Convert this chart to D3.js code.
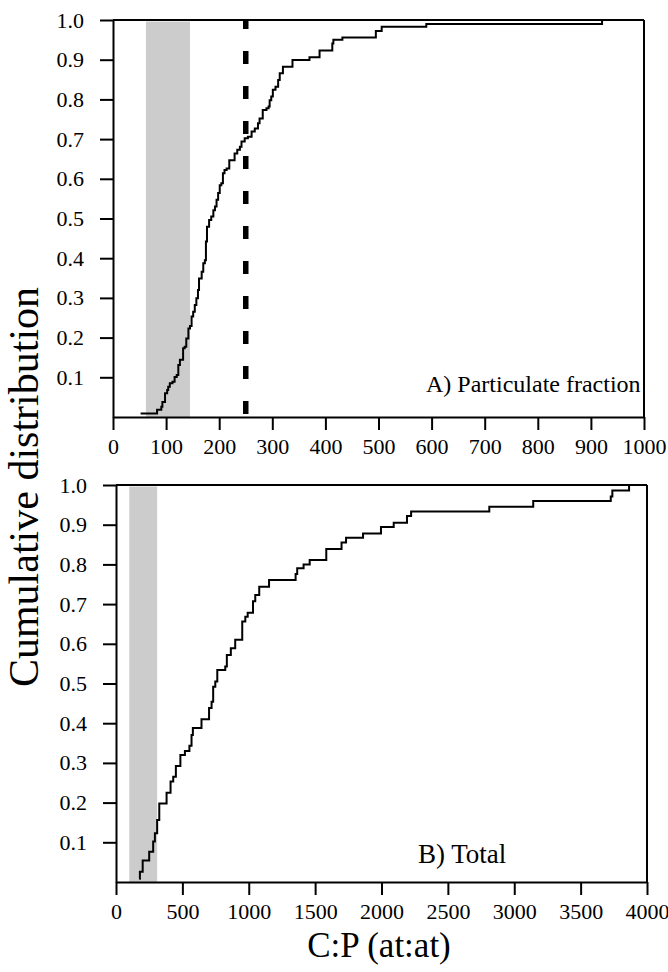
<!DOCTYPE html>
<html><head><meta charset="utf-8">
<script src="https://cdn.jsdelivr.net/npm/d3@7"></script>
<style>body{margin:0;background:#fff}svg{display:block}</style>
</head><body>
<svg id="chart" width="668" height="972"></svg>
<script>
// ---- data ----
const yTickValues = [0.1, 0.2, 0.3, 0.4, 0.5, 0.6, 0.7, 0.8, 0.9, 1.0];
const partTickValues = [0, 100, 200, 300, 400, 500, 600, 700, 800, 900, 1000];
const totalTickValues = [0, 500, 1000, 1500, 2000, 2500, 3000, 3500, 4000];

// A) Particulate fraction: C:P values at each step and cumulative fraction
const partX = [52, 83, 91, 93, 98, 102, 104, 107, 112, 116, 120, 123, 126, 132, 135, 138, 142, 145, 148, 151,
  154, 157, 160, 162, 167, 170, 173, 175, 177, 181, 185, 189, 192, 195, 198, 201, 204, 207, 210, 214,
  219, 229, 234, 239, 242, 248, 254, 261, 267, 273, 276, 282, 289, 293, 295, 298, 301, 306, 311, 314,
  320, 338, 370, 389, 413, 415, 432, 495, 506, 590, 921];
const partF = [0.009, 0.018, 0.026, 0.038, 0.060, 0.068, 0.076, 0.085, 0.089, 0.101, 0.106, 0.131, 0.144, 0.173, 0.177, 0.198, 0.223, 0.229, 0.253, 0.265,
  0.282, 0.299, 0.320, 0.349, 0.366, 0.387, 0.395, 0.442, 0.479, 0.496, 0.505, 0.521, 0.530, 0.547, 0.564, 0.584, 0.589, 0.614, 0.622, 0.626,
  0.647, 0.664, 0.673, 0.681, 0.694, 0.702, 0.706, 0.719, 0.727, 0.740, 0.752, 0.773, 0.778, 0.782, 0.798, 0.807, 0.824, 0.832, 0.849, 0.866,
  0.882, 0.899, 0.906, 0.923, 0.941, 0.950, 0.956, 0.972, 0.983, 0.990, 1.0];

// B) Total
const totalX = [175, 180, 201, 250, 280, 293, 310, 326, 381, 411, 431, 451, 485, 519, 553, 569, 579, 644, 701, 720,
  732, 748, 763, 823, 835, 865, 898, 951, 974, 992, 1032, 1049, 1079, 1153, 1353, 1365, 1413, 1459, 1584, 1699,
  1733, 1861, 1996, 2092, 2192, 2223, 2812, 3143, 3727, 3739, 3865];
const totalF = [0.008, 0.026, 0.054, 0.076, 0.102, 0.123, 0.156, 0.198, 0.225, 0.253, 0.265, 0.292, 0.320, 0.330, 0.343, 0.370, 0.388, 0.410, 0.438, 0.454,
  0.492, 0.505, 0.534, 0.543, 0.572, 0.589, 0.610, 0.656, 0.668, 0.678, 0.707, 0.723, 0.744, 0.761, 0.776, 0.790, 0.800, 0.811, 0.839, 0.855,
  0.867, 0.878, 0.894, 0.905, 0.922, 0.933, 0.945, 0.960, 0.971, 0.986, 1.0];

const partBand = [62, 145];
const totalBand = [100, 310];
const partRefLine = 250;

const panelLabels = ["A) Particulate fraction", "B) Total"];
const yAxisTitle = "Cumulative distribution";
const xAxisTitle = "C:P (at:at)";

// ---- drawing ----
const svg = d3.select("#chart");
const FONT = "'Liberation Serif', 'Times New Roman', serif";

function panel(opts) {
  const {left, right, top, bottom, xmax, ticks, xs, fs, band, refLine, label, labelX, labelY, labelSize} = opts;
  const x = d3.scaleLinear().domain([0, xmax]).range([left, right]);
  const y = d3.scaleLinear().domain([0, 1]).range([bottom, top]);
  const g = svg.append("g");

  // grey band
  g.append("rect")
    .attr("x", x(band[0])).attr("y", y(1) + 1.5)
    .attr("width", x(band[1]) - x(band[0]))
    .attr("height", y(0) - y(1) - 1.5)
    .attr("fill", "#cccccc");

  if (refLine !== undefined) {
    g.append("line")
      .attr("x1", x(refLine)).attr("x2", x(refLine))
      .attr("y1", y(0)).attr("y2", y(1))
      .attr("stroke", "#000").attr("stroke-width", 5.5)
      .attr("stroke-dasharray", "13,22").attr("stroke-dashoffset", -3);
  }

  // ECDF step curve
  const pts = xs.map((v, i) => [v, fs[i]]);
  g.append("path")
    .datum(pts)
    .attr("fill", "none").attr("stroke", "#000").attr("stroke-width", 2)
    .attr("d", d3.line().x(d => x(d[0])).y(d => y(d[1])).curve(d3.curveStepAfter));

  // box top & right
  g.append("line").attr("x1", left).attr("x2", right).attr("y1", top).attr("y2", top)
    .attr("stroke", "#000").attr("stroke-width", 2);
  g.append("line").attr("x1", right).attr("x2", right).attr("y1", top).attr("y2", bottom)
    .attr("stroke", "#000").attr("stroke-width", 2);

  // axes
  const yAxis = d3.axisLeft(y).tickValues(yTickValues).tickFormat(d3.format(".1f"))
    .tickSize(13).tickSizeOuter(0).tickPadding(16);
  const ga = g.append("g").attr("transform", `translate(${left},0)`).call(yAxis);
  const xAxis = d3.axisBottom(x).tickValues(ticks).tickFormat(d3.format("d"))
    .tickSize(13).tickSizeOuter(0).tickPadding(8);
  const gx = g.append("g").attr("transform", `translate(0,${bottom})`).call(xAxis);
  [ga, gx].forEach(a => {
    a.attr("font-family", FONT).attr("font-size", 22);
    a.selectAll("path").attr("stroke", "#000").attr("stroke-width", 2);
    a.selectAll("line").attr("stroke", "#000").attr("stroke-width", 2);
    a.selectAll("text").attr("font-family", FONT).attr("font-size", 22).attr("fill", "#000");
  });

  g.append("text").attr("x", labelX).attr("y", labelY)
    .attr("text-anchor", "start")
    .attr("font-family", FONT).attr("font-size", labelSize).attr("fill", "#000")
    .text(label);
}

panel({left: 113, right: 644, top: 20, bottom: 417, xmax: 1000, ticks: partTickValues,
  xs: partX, fs: partF, band: partBand, refLine: partRefLine,
  label: panelLabels[0], labelX: 426, labelY: 392, labelSize: 24});
panel({left: 116, right: 647, top: 485, bottom: 882, xmax: 4000, ticks: totalTickValues,
  xs: totalX, fs: totalF, band: totalBand,
  label: panelLabels[1], labelX: 418, labelY: 863, labelSize: 27});

svg.append("text")
  .attr("transform", "translate(38,487) rotate(-90)")
  .attr("text-anchor", "middle")
  .attr("font-family", FONT).attr("font-size", 42).attr("fill", "#000")
  .text(yAxisTitle);

svg.append("text")
  .attr("x", 379).attr("y", 957)
  .attr("text-anchor", "middle")
  .attr("font-family", FONT).attr("font-size", 35).attr("fill", "#000")
  .text(xAxisTitle);
</script>
</body></html>
